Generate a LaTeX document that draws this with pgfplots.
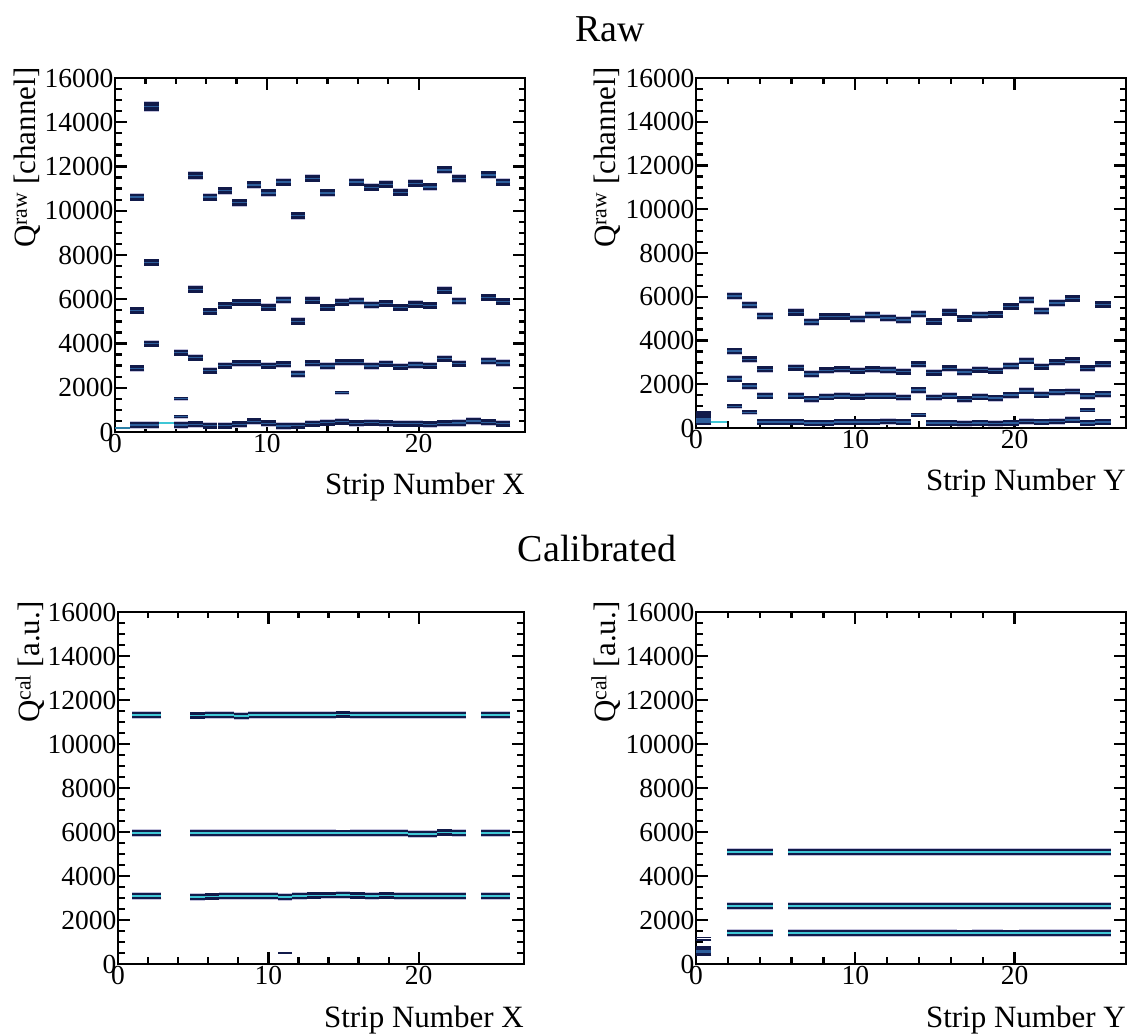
\documentclass[border=0pt]{standalone}
\usepackage{fontspec}
\setmainfont{Liberation Serif}
\usepackage{pgfplots}
\pgfplotsset{compat=1.18}
\usepackage{pgfplotstable}

\definecolor{navy}{HTML}{111A4A}
\definecolor{stripe}{HTML}{2D5E9C}
\definecolor{halo}{HTML}{C4C2DC}
\definecolor{cyanl}{HTML}{3FC7D6}
\definecolor{tealb}{HTML}{2B7FA6}

% ---------- Raw X ----------
\pgfplotstableread{
k y
1 10610
5 11589
6 10610
7 10910
8 10368
9 11167
10 10805
11 11288
12 9780
13 11468
14 10805
16 11288
17 11061
18 11197
19 10835
20 11242
21 11076
22 11845
23 11453
25 11619
26 11288
}\TLa
\pgfplotstableread{
k y
2 14710
}\TLtop
\pgfplotstableread{
k y
1 5485
2 7655
5 6450
6 5440
7 5711
8 5847
9 5847
10 5636
11 5968
12 5003
13 5953
14 5621
15 5862
16 5923
17 5742
18 5802
19 5621
20 5772
21 5711
22 6405
23 5923
25 6073
26 5893
}\TLb
\pgfplotstableread{
k y
1 2878
2 3994
4 3587
5 3360
6 2773
7 3000
8 3104
9 3104
10 3000
11 3059
12 2622
13 3104
14 2984
15 3150
16 3150
17 2984
18 3089
19 2954
20 3029
21 3000
22 3315
23 3089
25 3210
26 3119
}\TLc
\pgfplotstableread{
k y
4 1507
4 693
15 1778
}\TLe
\pgfplotstableread{
k y
1 316
2 316
4 316
5 347
6 286
7 286
8 347
9 480
10 392
11 271
12 286
13 377
14 422
15 467
16 392
17 420
18 392
19 377
20 377
21 347
22 392
23 407
24 500
25 437
26 377
}\TLd

% ---------- Raw Y ----------
\pgfplotstableread{
k y
2 6030
3 5620
4 5125
6 5290
7 4838
8 5095
9 5100
10 4980
11 5155
12 5020
13 4945
14 5220
15 4868
16 5290
17 5010
18 5155
19 5185
20 5555
21 5840
22 5350
23 5720
24 5925
26 5640
}\TRa
\pgfplotstableread{
k y
2 3510
3 3132
4 2680
6 2755
7 2468
8 2634
9 2680
10 2620
11 2680
12 2649
13 2573
14 2906
15 2528
16 2725
17 2558
18 2664
19 2619
20 2830
21 3071
22 2808
23 3004
24 3087
25 2724
26 2906
}\TRb
\pgfplotstableread{
k y
2 2240
3 1910
4 1472
6 1472
7 1320
8 1426
9 1472
10 1434
11 1472
12 1472
13 1396
14 1728
15 1396
16 1472
17 1313
18 1426
19 1366
20 1502
21 1698
22 1517
23 1645
24 1668
25 1457
26 1547
}\TRc
\pgfplotstableread{
k y
2 990
3 717
14 596
25 822
}\TRe
\pgfplotstableread{
k y
4 271
5 271
6 271
7 226
8 226
9 271
10 271
11 271
12 301
13 271
15 226
16 226
17 196
18 226
19 196
20 226
21 301
22 271
23 301
24 376
25 226
26 271
}\TRd

% ---------- Calibrated X ----------
\pgfplotstableread{
k a b c
1 11320 5950 3095
2 11320 5950 3095
5 11300 5960 3050
6 11320 5960 3070
7 11320 5950 3090
8 11280 5960 3090
9 11320 5950 3100
10 11320 5950 3100
11 11320 5950 3050
12 11320 5950 3100
13 11320 5950 3110
14 11330 5950 3120
15 11340 5940 3130
16 11320 5950 3110
17 11320 5950 3100
18 11320 5950 3110
19 11320 5950 3100
20 11320 5900 3100
21 11320 5900 3100
22 11320 5980 3080
23 11320 5950 3080
25 11320 5950 3095
26 11320 5950 3095
}\BL

% ---------- Calibrated Y ----------
\pgfplotstableread{
k a b c
2 5092 2637 1401
3 5092 2637 1401
4 5092 2637 1401
6 5092 2637 1401
7 5095 2637 1401
8 5100 2637 1410
9 5100 2637 1405
10 5100 2630 1405
11 5095 2637 1401
12 5092 2637 1401
13 5092 2637 1401
14 5092 2637 1401
15 5092 2637 1401
16 5092 2637 1401
17 5092 2637 1395
18 5092 2637 1401
19 5092 2637 1401
20 5092 2630 1395
21 5092 2637 1401
22 5092 2637 1401
23 5092 2637 1401
24 5092 2637 1401
25 5100 2637 1401
26 5092 2637 1401
}\BR

\def\hw{7.32pt}
\pgfplotsset{
  hb/.style 2 args={only marks, mark=-, mark size=\hw, forget plot,
    mark options={draw=#1, line width=#2, line cap=butt, solid}},
  rootax/.style={
    scale only axis, xmin=0, xmax=27, ymin=0, ymax=16000,
    xtick={0,10,20}, minor x tick num=4,
    ytick={0,2000,...,16000}, minor y tick num=3,
    tick align=inside, xtick pos=both, ytick pos=both,
    xticklabel pos=left, yticklabel pos=left,
    axis line style={line width=2.8pt},
    every tick/.style={line width=2.3pt, black},
    major tick length=12pt, minor tick length=6.5pt,
    scaled y ticks=false,
    /pgf/number format/1000 sep={},
    /pgf/number format/assume math mode=true,
    tick label style={font=\fontsize{27.5}{27.5}\selectfont},
    yticklabel style={inner sep=1.5pt},
    xticklabel style={inner sep=2pt},
    xlabel style={at={(rel axis cs:1,0)}, anchor=base east, yshift=-63pt,
      font=\fontsize{31}{31}\selectfont, inner sep=0pt},
    ylabel style={anchor=south east, font=\fontsize{31}{31}\selectfont, inner sep=0pt},
  },
}

\newcommand{\rawband}[3]{% table, width, halo width
  \addplot[hb={halo}{#3}] table[x expr={(\thisrow{k}+0.5)*0.964286}, y=y] {#1};
  \addplot[hb={navy}{#2}] table[x expr={(\thisrow{k}+0.5)*0.964286}, y=y] {#1};
  \addplot[hb={stripe}{1.5pt}] table[x expr={(\thisrow{k}+0.5)*0.964286}, y=y] {#1};
}
\newcommand{\calband}[3]{% table, column, width
  \addplot[hb={halo}{7.6pt}] table[x expr={(\thisrow{k}+0.5)*0.964286}, y=#2] {#1};
  \addplot[hb={navy}{#3}] table[x expr={(\thisrow{k}+0.5)*0.964286}, y=#2] {#1};
  \addplot[hb={cyanl}{1.7pt}] table[x expr={(\thisrow{k}+0.5)*0.964286}, y=#2] {#1};
}

\begin{document}
\begin{tikzpicture}
\path[use as bounding box] (0,0) rectangle (1133pt,1034pt);

\node[font=\fontsize{38}{38}\selectfont] at (610pt,1005pt) {Raw};
\node[font=\fontsize{38}{38}\selectfont] at (597pt,485pt) {Calibrated};

% ---------------- Raw X ----------------
\def\hw{7.32pt}
\begin{axis}[rootax, at={(115pt,602pt)}, anchor=south west, width=410pt, height=354pt,
  xlabel={Strip Number X}, ylabel={Q\textsuperscript{raw} [channel]},
  ylabel style={at={(rel axis cs:-0.18,1.03)}}]
\rawband{\TLa}{7pt}{8.2pt}
\rawband{\TLtop}{9pt}{10.2pt}
\rawband{\TLb}{6.5pt}{7.7pt}
\rawband{\TLc}{6pt}{7.2pt}
\rawband{\TLd}{6pt}{7.2pt}
\addplot[hb={halo}{4.2pt}] table[x expr={(\thisrow{k}+0.5)*0.964286}, y=y] {\TLe};
\addplot[hb={navy}{3.4pt}] table[x expr={(\thisrow{k}+0.5)*0.964286}, y=y] {\TLe};
\addplot[hb={stripe}{1pt}] table[x expr={(\thisrow{k}+0.5)*0.964286}, y=y] {\TLe};
\addplot[hb={tealb}{1.8pt}] coordinates {(0.48214,196)};
\addplot[hb={cyanl}{1.8pt}] coordinates {(3.375,390)};
\end{axis}

% ---------------- Raw Y ----------------
\def\hw{7.68pt}
\begin{axis}[rootax, at={(696pt,606pt)}, anchor=south west, width=430pt, height=350pt,
  xlabel={Strip Number Y}, ylabel={Q\textsuperscript{raw} [channel]},
  ylabel style={at={(rel axis cs:-0.175,1.03)}}]
\rawband{\TRa}{6.5pt}{7.7pt}
\rawband{\TRb}{6pt}{7.2pt}
\rawband{\TRc}{5.8pt}{7pt}
\rawband{\TRd}{5.5pt}{6.7pt}
\addplot[hb={halo}{4.6pt}] table[x expr={(\thisrow{k}+0.5)*0.964286}, y=y] {\TRe};
\addplot[hb={navy}{3.8pt}] table[x expr={(\thisrow{k}+0.5)*0.964286}, y=y] {\TRe};
\addplot[hb={stripe}{1pt}] table[x expr={(\thisrow{k}+0.5)*0.964286}, y=y] {\TRe};
\addplot[hb={navy}{13pt}] coordinates {(0.48214,420)};
\addplot[hb={stripe}{5pt}] coordinates {(0.48214,330)};
\addplot[hb={navy}{1.8pt}] coordinates {(0.48214,720)};
\addplot[hb={cyanl}{1.8pt}] coordinates {(1.44643,271)};
\end{axis}

% ---------------- Calibrated X ----------------
\def\hw{7.25pt}
\begin{axis}[rootax, at={(118pt,70pt)}, anchor=south west, width=406pt, height=352pt,
  xlabel={Strip Number X}, ylabel={Q\textsuperscript{cal} [a.u.]},
  ylabel style={at={(rel axis cs:-0.18,1.03)}}]
\calband{\BL}{a}{6.4pt}
\calband{\BL}{b}{6.2pt}
\calband{\BL}{c}{6.2pt}
\addplot[hb={navy}{2.2pt}] coordinates {(11.08929,500)};
\end{axis}

% ---------------- Calibrated Y ----------------
\def\hw{7.68pt}
\begin{axis}[rootax, at={(696pt,70pt)}, anchor=south west, width=430pt, height=352pt,
  xlabel={Strip Number Y}, ylabel={Q\textsuperscript{cal} [a.u.]},
  ylabel style={at={(rel axis cs:-0.175,1.03)}}]
\calband{\BR}{a}{6.2pt}
\calband{\BR}{b}{6.2pt}
\calband{\BR}{c}{6.2pt}
\addplot[hb={navy}{10pt}] coordinates {(0.48214,600)};
\addplot[hb={stripe}{3pt}] coordinates {(0.48214,560)};
\addplot[hb={navy}{1.8pt}] coordinates {(0.48214,1085)};
\addplot[hb={navy}{1.8pt}] coordinates {(0.48214,1205)};
\end{axis}
\end{tikzpicture}
\end{document}
